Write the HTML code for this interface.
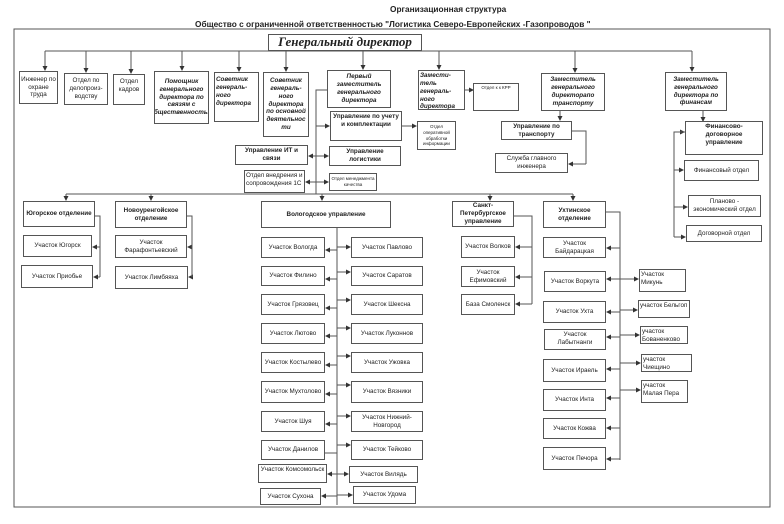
<!DOCTYPE html>
<html><head><meta charset="utf-8"><style>
body{margin:0;background:#fff;}
#w{position:relative;width:784px;height:524px;overflow:hidden;font-family:"Liberation Sans","DejaVu Sans",sans-serif;color:#222;}
.b{position:absolute;box-sizing:border-box;border:1.3px solid #555;background:#fff;display:flex;align-items:center;justify-content:center;text-align:center;font-size:6.3px;line-height:1.25;overflow:hidden;padding:1px;}
.i{font-style:italic;font-weight:bold;}
.bo{font-weight:bold;}
.t{position:absolute;font-weight:bold;font-size:8.3px;white-space:nowrap;}
.tl{align-items:flex-start;justify-content:flex-start;text-align:left;}
svg{position:absolute;left:0;top:0;}
</style></head><body><div id="w">
<svg width="784" height="524" viewBox="0 0 784 524">
<defs><marker id="a" markerWidth="5" markerHeight="5" refX="4" refY="2.5" orient="auto" markerUnits="userSpaceOnUse"><path d="M0,0L5,2.5L0,5z" fill="#333"/></marker></defs>
<g stroke="#555" stroke-width="1" fill="none">
<rect x="14" y="29" width="756" height="478"/>
<line x1="45" y1="51" x2="692" y2="51"/>
<g marker-end="url(#a)">
<line x1="45" y1="51" x2="45" y2="70"/><line x1="86" y1="51" x2="86" y2="72"/><line x1="131" y1="51" x2="131" y2="73"/><line x1="182" y1="51" x2="182" y2="70"/><line x1="239" y1="51" x2="239" y2="71"/><line x1="286" y1="51" x2="286" y2="71"/><line x1="363" y1="51" x2="363" y2="69"/><line x1="439" y1="51" x2="439" y2="69"/><line x1="575" y1="51" x2="575" y2="72"/><line x1="692" y1="51" x2="692" y2="71"/>
<line x1="465" y1="90" x2="473" y2="90"/>
<line x1="402" y1="126" x2="416" y2="126"/>
<line x1="560" y1="111" x2="560" y2="120"/>
<line x1="703" y1="111" x2="703" y2="121"/>
<line x1="316" y1="126" x2="329" y2="126"/><line x1="316" y1="156" x2="328" y2="156"/><line x1="316" y1="182" x2="328" y2="182"/>
<line x1="316" y1="156" x2="309" y2="156"/><line x1="316" y1="182" x2="306" y2="182"/>
<line x1="586" y1="164" x2="569" y2="164"/>
<line x1="674" y1="132" x2="684" y2="132"/><line x1="674" y1="170" x2="683" y2="170"/><line x1="674" y1="207" x2="687" y2="207"/><line x1="674" y1="237" x2="685" y2="237"/>
<line x1="66" y1="194" x2="66" y2="200"/><line x1="151" y1="194" x2="151" y2="200"/><line x1="322" y1="194" x2="322" y2="200"/><line x1="490" y1="194" x2="490" y2="200"/><line x1="573" y1="194" x2="573" y2="200"/>
<line x1="100" y1="247" x2="93" y2="247"/><line x1="100" y1="277" x2="94" y2="277"/>
<line x1="192" y1="247" x2="188" y2="247"/><line x1="192" y1="277" x2="189" y2="277"/>
<line x1="532" y1="247" x2="516" y2="247"/><line x1="532" y1="277" x2="516" y2="277"/><line x1="532" y1="304" x2="516" y2="304"/>
</g>
<polyline points="327,90 316,90 316,194"/>
<polyline points="572,131 586,131 586,164"/>
<polyline points="685,132 674,132 674,237"/>
<line x1="66" y1="194" x2="573" y2="194"/>
<polyline points="95,216 100,216 100,277"/>
<polyline points="187,216 192,216 192,277"/>
<polyline points="514,216 532,216 532,304"/>
<polyline points="606,212 620,212 620,460"/>
<line x1="337" y1="228" x2="337" y2="505"/>
<g marker-end="url(#a)">
<line x1="337" y1="250" x2="326" y2="250"/><line x1="337" y1="279" x2="326" y2="279"/><line x1="337" y1="308" x2="326" y2="308"/><line x1="337" y1="336" x2="326" y2="336"/><line x1="337" y1="365" x2="326" y2="365"/><line x1="337" y1="394" x2="326" y2="394"/><line x1="337" y1="424" x2="326" y2="424"/><line x1="337" y1="453" x2="318" y2="453"/><line x1="337" y1="474" x2="328" y2="474"/><line x1="337" y1="496" x2="322" y2="496"/>
<line x1="337" y1="247" x2="350" y2="247"/><line x1="337" y1="272" x2="350" y2="272"/><line x1="337" y1="300" x2="350" y2="300"/><line x1="337" y1="328" x2="350" y2="328"/><line x1="337" y1="356" x2="350" y2="356"/><line x1="337" y1="385" x2="350" y2="385"/><line x1="337" y1="416" x2="350" y2="416"/><line x1="337" y1="445" x2="350" y2="445"/><line x1="337" y1="474" x2="348" y2="474"/><line x1="337" y1="495" x2="352" y2="495"/>
<line x1="620" y1="248" x2="607" y2="248"/><line x1="620" y1="279" x2="607" y2="279"/><line x1="620" y1="312" x2="607" y2="312"/><line x1="620" y1="337" x2="607" y2="337"/><line x1="620" y1="369" x2="607" y2="369"/><line x1="620" y1="398" x2="607" y2="398"/><line x1="620" y1="428" x2="607" y2="428"/><line x1="620" y1="459" x2="607" y2="459"/>
<line x1="620" y1="279" x2="638" y2="279"/><line x1="620" y1="310" x2="637" y2="310"/><line x1="620" y1="335" x2="639" y2="335"/><line x1="620" y1="363" x2="640" y2="363"/><line x1="620" y1="390" x2="640" y2="390"/>
</g>
</g>
</svg>
<div class="t" style="left:390px;top:4px;">Организационная структура</div>
<div class="t" style="left:195px;top:19px;">Общество с ограниченной ответственностью "Логистика Северо-Европейских -Газопроводов "</div>
<div class="b" style="left:268px;top:34px;width:154px;height:17px;font-family:'Liberation Serif',serif;font-style:italic;font-weight:bold;font-size:13px;">Генеральный директор</div>

<div class="b" style="left:19px;top:71px;width:39px;height:33px;">Инженер по охране труда</div>
<div class="b" style="left:64px;top:73px;width:44px;height:32px;">Отдел по делопроиз-водству</div>
<div class="b tl" style="left:113px;top:74px;width:32px;height:31px;justify-content:center;text-align:center;padding-top:3px;">Отдел кадров</div>
<div class="b i" style="left:154px;top:71px;width:55px;height:53px;">Помощник генерального директора по связям с общественностью</div>
<div class="b i tl" style="left:214px;top:72px;width:45px;height:50px;padding-top:3px;">Советник генераль-ного директора</div>
<div class="b i" style="left:263px;top:72px;width:46px;height:65px;">Советник генераль-ного директора по основной деятельнос ти</div>
<div class="b i" style="left:327px;top:70px;width:64px;height:38px;">Первый заместитель генерального директора</div>
<div class="b i tl" style="left:418px;top:70px;width:47px;height:40px;">Замести-тель генераль-ного директора</div>
<div class="b" style="left:473px;top:83px;width:46px;height:28px;font-size:4.5px;align-items:flex-start;">Отдел к к КРР</div>
<div class="b i" style="left:541px;top:73px;width:64px;height:38px;">Заместитель генерального директорапо транспорту</div>
<div class="b i" style="left:665px;top:72px;width:62px;height:39px;">Заместитель генерального директора по финансам</div>

<div class="b bo" style="left:330px;top:111px;width:72px;height:30px;align-items:flex-start;">Управление по учету и комплектации</div>
<div class="b bo" style="left:329px;top:146px;width:72px;height:20px;">Управление логистики</div>
<div class="b" style="left:417px;top:121px;width:39px;height:29px;font-size:4.5px;">Отдел оперативной обработки информации</div>
<div class="b bo" style="left:235px;top:145px;width:73px;height:20px;">Управление ИТ и связи</div>
<div class="b tl" style="left:244px;top:170px;width:61px;height:23px;">Отдел внедрения и сопровождения 1С</div>
<div class="b" style="left:329px;top:173px;width:48px;height:18px;font-size:4.5px;">Отдел менеджмента качества</div>
<div class="b bo" style="left:501px;top:121px;width:71px;height:19px;align-items:flex-start;">Управление по транспорту</div>
<div class="b" style="left:495px;top:153px;width:73px;height:20px;">Служба главного инженера</div>
<div class="b bo" style="left:685px;top:121px;width:78px;height:34px;align-items:flex-start;">Финансово-договорное управление</div>
<div class="b" style="left:684px;top:160px;width:75px;height:21px;">Финансовый отдел</div>
<div class="b" style="left:688px;top:195px;width:73px;height:22px;">Планово - экономический отдел</div>
<div class="b" style="left:686px;top:225px;width:76px;height:17px;">Договорной отдел</div>

<div class="b bo" style="left:23px;top:201px;width:72px;height:26px;">Югорское отделение</div>
<div class="b" style="left:23px;top:235px;width:69px;height:22px;">Участок Югорск</div>
<div class="b" style="left:21px;top:265px;width:72px;height:23px;">Участок Приобье</div>
<div class="b bo" style="left:115px;top:201px;width:72px;height:27px;">Новоуренгойское отделение</div>
<div class="b" style="left:115px;top:235px;width:72px;height:23px;">Участок Фарафонтьевский</div>
<div class="b" style="left:115px;top:266px;width:73px;height:23px;">Участок Лимбяяха</div>
<div class="b bo" style="left:261px;top:201px;width:130px;height:27px;">Вологодское управление</div>

<div class="b" style="left:261px;top:237px;width:64px;height:21px;">Участок Вологда</div>
<div class="b" style="left:261px;top:266px;width:64px;height:20px;">Участок Филино</div>
<div class="b" style="left:261px;top:294px;width:64px;height:21px;">Участок Грязовец</div>
<div class="b" style="left:261px;top:323px;width:64px;height:21px;">Участок Лютово</div>
<div class="b" style="left:261px;top:352px;width:64px;height:21px;">Участок Костылево</div>
<div class="b" style="left:261px;top:381px;width:64px;height:22px;">Участок Мухтолово</div>
<div class="b" style="left:261px;top:411px;width:64px;height:21px;">Участок Шуя</div>
<div class="b" style="left:261px;top:440px;width:64px;height:20px;">Участок Данилов</div>
<div class="b" style="left:258px;top:464px;width:69px;height:19px;align-items:flex-start;">Участок Комсомольск</div>
<div class="b" style="left:260px;top:488px;width:61px;height:17px;">Участок Сухона</div>
<div class="b" style="left:351px;top:237px;width:72px;height:21px;">Участок Павлово</div>
<div class="b" style="left:351px;top:266px;width:72px;height:20px;">Участок Саратов</div>
<div class="b" style="left:351px;top:294px;width:72px;height:21px;">Участок Шексна</div>
<div class="b" style="left:351px;top:323px;width:72px;height:21px;">Участок Луконнов</div>
<div class="b" style="left:351px;top:352px;width:72px;height:21px;">Участок Ужовка</div>
<div class="b" style="left:351px;top:381px;width:72px;height:22px;">Участок Вязники</div>
<div class="b" style="left:351px;top:411px;width:72px;height:21px;">Участок Нижний-Новгород</div>
<div class="b" style="left:351px;top:440px;width:72px;height:20px;">Участок Тейково</div>
<div class="b" style="left:349px;top:466px;width:69px;height:17px;">Участок Вилядь</div>
<div class="b" style="left:353px;top:486px;width:63px;height:18px;">Участок Удома</div>

<div class="b bo" style="left:452px;top:201px;width:62px;height:26px;">Санкт-Петербургское управление</div>
<div class="b" style="left:461px;top:236px;width:54px;height:22px;">Участок Волков</div>
<div class="b" style="left:461px;top:266px;width:54px;height:21px;">Участок Ефимовский</div>
<div class="b" style="left:461px;top:294px;width:54px;height:21px;">База Смоленск</div>

<div class="b bo" style="left:543px;top:201px;width:63px;height:27px;">Ухтинское отделение</div>
<div class="b" style="left:543px;top:237px;width:63px;height:21px;">Участок Байдарацкая</div>
<div class="b" style="left:544px;top:271px;width:62px;height:21px;">Участок Воркута</div>
<div class="b" style="left:543px;top:301px;width:63px;height:22px;">Участок Ухта</div>
<div class="b" style="left:544px;top:329px;width:62px;height:21px;align-items:flex-start;">Участок Лабытнанги</div>
<div class="b" style="left:543px;top:359px;width:63px;height:23px;">Участок Ираель</div>
<div class="b" style="left:543px;top:389px;width:63px;height:22px;">Участок Инта</div>
<div class="b" style="left:543px;top:418px;width:63px;height:21px;">Участок Кожва</div>
<div class="b" style="left:543px;top:447px;width:63px;height:23px;">Участок Печора</div>
<div class="b tl" style="left:639px;top:269px;width:47px;height:23px;">Участок Микунь</div>
<div class="b tl" style="left:638px;top:300px;width:52px;height:18px;">участок Бельгоп</div>
<div class="b tl" style="left:640px;top:326px;width:48px;height:18px;">участок Бованенково</div>
<div class="b tl" style="left:641px;top:354px;width:51px;height:18px;">участок Чиещино</div>
<div class="b tl" style="left:641px;top:380px;width:47px;height:23px;">участок Малая Пера</div>
</div></body></html>
